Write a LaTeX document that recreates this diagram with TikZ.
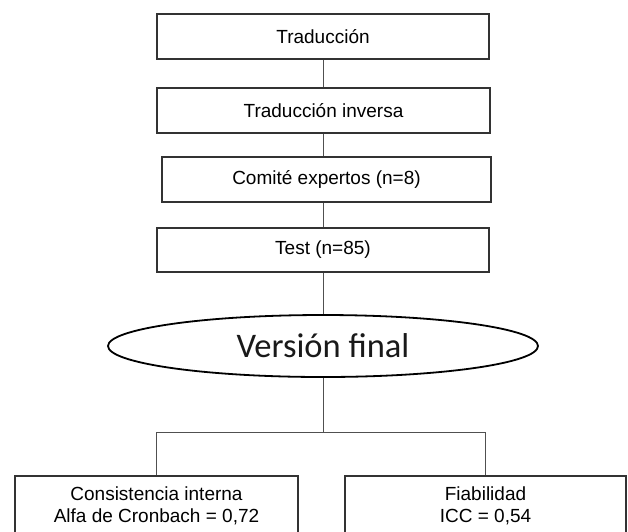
\documentclass[tikz,border=0pt]{standalone}
\usepackage{fontspec}
\setmainfont{Liberation Sans}
\newfontfamily\calfont{Carlito}
\usetikzlibrary{shapes.geometric}
\definecolor{boxgray}{HTML}{333333}
\definecolor{linegray}{HTML}{505050}
\tikzset{
  stepbox/.style={draw=boxgray, line width=1.4pt, rectangle, inner sep=0pt,
    font=\fontsize{19}{21.5}\selectfont, align=center, text=black},
  conn/.style={draw=linegray, line width=1pt},
  finalell/.style={draw=black, line width=1.8pt, ellipse, inner sep=0pt,
    minimum width=430pt, minimum height=62pt, font=\calfont\fontsize{34.5}{40}\selectfont, text=black!90}
}
\begin{document}
\begin{tikzpicture}[x=1pt,y=-1pt]
\useasboundingbox (0,0) rectangle (628,531);
\fill[white] (0,0) rectangle (628,531);
\node[stepbox, minimum width=332pt, minimum height=45pt] (b1) at (323,36.5) {Traducción};
\node[stepbox, minimum width=333pt, minimum height=45pt] (b2) at (323.5,110.5) {Traducción inversa};
\node[stepbox, minimum width=329pt, minimum height=45pt] (b3) at (326.5,179.5) {Comité expertos (n=8)};
\node[stepbox, minimum width=332pt, minimum height=44pt] (b4) at (323,250) {Test (n=85)};
\node[finalell] (vf) at (323,346) {Versión final};
\node[stepbox, minimum width=283pt, minimum height=60pt] (cl) at (156.5,506) {Consistencia interna\\Alfa de Cronbach = 0,72};
\node[stepbox, minimum width=281pt, minimum height=60pt] (cr) at (485.5,506) {Fiabilidad\\ICC = 0,54};
\coordinate (j) at (323,432);
\draw[conn] (b1.south -| 323,0) -- (b2.north -| 323,0);
\draw[conn] (b2.south -| 323,0) -- (b3.north -| 323,0);
\draw[conn] (b3.south -| 323,0) -- (b4.north -| 323,0);
\draw[conn] (b4.south) -- (vf.north);
\draw[conn] (vf.south) -- (j);
\draw[conn] (cl.north) |- (j) -| (cr.north);
\end{tikzpicture}
\end{document}
